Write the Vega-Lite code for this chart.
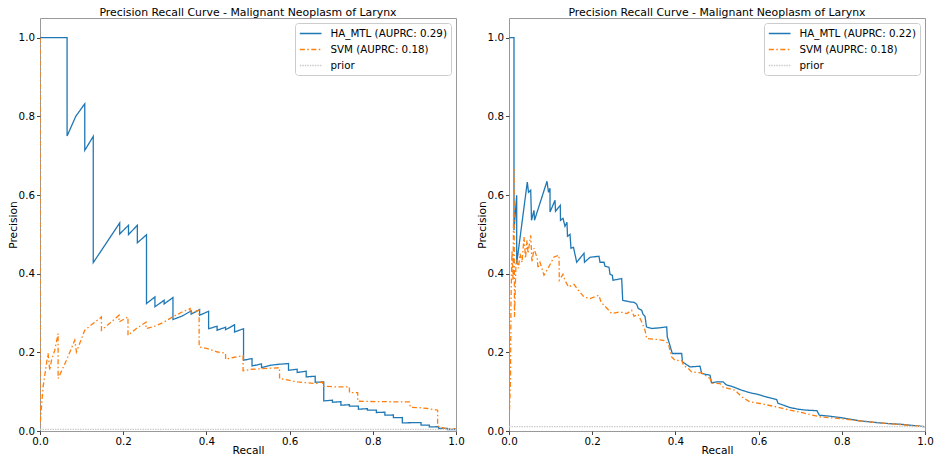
{
  "$schema": "https://vega.github.io/schema/vega-lite/v6.json",
  "padding": {"left": 6, "top": 6, "right": 5, "bottom": 5},
  "bounds": "flush",
  "spacing": 53,
  "config": {
    "font": "DejaVu Sans",
    "view": {"stroke": "#999", "strokeWidth": 1},
    "axis": {"grid": false, "domain": false, "tickColor": "#444", "tickSize": 3.5, "labelFontSize": 10.3, "labelColor": "#000", "labelFlush": false, "titleFontSize": 10.7, "titleFontWeight": "normal", "titleColor": "#000", "labelPadding": 2, "titlePadding": 0},
    "axisX": {"titlePadding": -1},
    "title": {"fontSize": 10.9, "fontWeight": "normal", "color": "#000", "offset": 0.3},
    "legend": {"orient": "top-right", "offset": 5, "strokeColor": "#ccc", "fillColor": "#fff", "padding": 3.5, "cornerRadius": 3, "labelFontSize": 10.3, "labelColor": "#000", "symbolType": "M-0.95,0H2.67", "symbolSize": 144, "symbolStrokeWidth": 1.4, "symbolFillColor": "transparent", "rowPadding": 3, "labelOffset": 18}
  },
  "datasets": {
    "left": [
      {"s": "HA_MTL (AUPRC: 0.29)", "i": 0, "r": 0, "p": 1.0},
      {"s": "HA_MTL (AUPRC: 0.29)", "i": 1, "r": 0.0651, "p": 1.0},
      {"s": "HA_MTL (AUPRC: 0.29)", "i": 2, "r": 0.0651, "p": 0.75},
      {"s": "HA_MTL (AUPRC: 0.29)", "i": 3, "r": 0.086, "p": 0.8},
      {"s": "HA_MTL (AUPRC: 0.29)", "i": 4, "r": 0.1076, "p": 0.832},
      {"s": "HA_MTL (AUPRC: 0.29)", "i": 5, "r": 0.1076, "p": 0.7136},
      {"s": "HA_MTL (AUPRC: 0.29)", "i": 6, "r": 0.128, "p": 0.749},
      {"s": "HA_MTL (AUPRC: 0.29)", "i": 7, "r": 0.128, "p": 0.428},
      {"s": "HA_MTL (AUPRC: 0.29)", "i": 8, "r": 0.1916, "p": 0.529},
      {"s": "HA_MTL (AUPRC: 0.29)", "i": 9, "r": 0.1916, "p": 0.501},
      {"s": "HA_MTL (AUPRC: 0.29)", "i": 10, "r": 0.2127, "p": 0.523},
      {"s": "HA_MTL (AUPRC: 0.29)", "i": 11, "r": 0.2127, "p": 0.4994},
      {"s": "HA_MTL (AUPRC: 0.29)", "i": 12, "r": 0.234, "p": 0.523},
      {"s": "HA_MTL (AUPRC: 0.29)", "i": 13, "r": 0.234, "p": 0.4785},
      {"s": "HA_MTL (AUPRC: 0.29)", "i": 14, "r": 0.256, "p": 0.4989},
      {"s": "HA_MTL (AUPRC: 0.29)", "i": 15, "r": 0.256, "p": 0.324},
      {"s": "HA_MTL (AUPRC: 0.29)", "i": 16, "r": 0.2763, "p": 0.3408},
      {"s": "HA_MTL (AUPRC: 0.29)", "i": 17, "r": 0.2763, "p": 0.3159},
      {"s": "HA_MTL (AUPRC: 0.29)", "i": 18, "r": 0.2984, "p": 0.3324},
      {"s": "HA_MTL (AUPRC: 0.29)", "i": 19, "r": 0.2984, "p": 0.323},
      {"s": "HA_MTL (AUPRC: 0.29)", "i": 20, "r": 0.3196, "p": 0.3393},
      {"s": "HA_MTL (AUPRC: 0.29)", "i": 21, "r": 0.3196, "p": 0.2834},
      {"s": "HA_MTL (AUPRC: 0.29)", "i": 22, "r": 0.3405, "p": 0.2917},
      {"s": "HA_MTL (AUPRC: 0.29)", "i": 23, "r": 0.3633, "p": 0.3052},
      {"s": "HA_MTL (AUPRC: 0.29)", "i": 24, "r": 0.3633, "p": 0.2968},
      {"s": "HA_MTL (AUPRC: 0.29)", "i": 25, "r": 0.3837, "p": 0.3088},
      {"s": "HA_MTL (AUPRC: 0.29)", "i": 26, "r": 0.3837, "p": 0.2943},
      {"s": "HA_MTL (AUPRC: 0.29)", "i": 27, "r": 0.4053, "p": 0.3044},
      {"s": "HA_MTL (AUPRC: 0.29)", "i": 28, "r": 0.4053, "p": 0.26},
      {"s": "HA_MTL (AUPRC: 0.29)", "i": 29, "r": 0.4257, "p": 0.2663},
      {"s": "HA_MTL (AUPRC: 0.29)", "i": 30, "r": 0.4257, "p": 0.2562},
      {"s": "HA_MTL (AUPRC: 0.29)", "i": 31, "r": 0.4461, "p": 0.2638},
      {"s": "HA_MTL (AUPRC: 0.29)", "i": 32, "r": 0.4461, "p": 0.2574},
      {"s": "HA_MTL (AUPRC: 0.29)", "i": 33, "r": 0.4677, "p": 0.2701},
      {"s": "HA_MTL (AUPRC: 0.29)", "i": 34, "r": 0.4677, "p": 0.2518},
      {"s": "HA_MTL (AUPRC: 0.29)", "i": 35, "r": 0.4893, "p": 0.26},
      {"s": "HA_MTL (AUPRC: 0.29)", "i": 36, "r": 0.4893, "p": 0.1799},
      {"s": "HA_MTL (AUPRC: 0.29)", "i": 37, "r": 0.5097, "p": 0.1842},
      {"s": "HA_MTL (AUPRC: 0.29)", "i": 38, "r": 0.5097, "p": 0.1654},
      {"s": "HA_MTL (AUPRC: 0.29)", "i": 39, "r": 0.5325, "p": 0.1705},
      {"s": "HA_MTL (AUPRC: 0.29)", "i": 40, "r": 0.5325, "p": 0.1609},
      {"s": "HA_MTL (AUPRC: 0.29)", "i": 41, "r": 0.5541, "p": 0.1672},
      {"s": "HA_MTL (AUPRC: 0.29)", "i": 42, "r": 0.5758, "p": 0.1698},
      {"s": "HA_MTL (AUPRC: 0.29)", "i": 43, "r": 0.5974, "p": 0.1715},
      {"s": "HA_MTL (AUPRC: 0.29)", "i": 44, "r": 0.5974, "p": 0.1545},
      {"s": "HA_MTL (AUPRC: 0.29)", "i": 45, "r": 0.6182, "p": 0.157},
      {"s": "HA_MTL (AUPRC: 0.29)", "i": 46, "r": 0.6182, "p": 0.1487},
      {"s": "HA_MTL (AUPRC: 0.29)", "i": 47, "r": 0.6399, "p": 0.152},
      {"s": "HA_MTL (AUPRC: 0.29)", "i": 48, "r": 0.6399, "p": 0.1375},
      {"s": "HA_MTL (AUPRC: 0.29)", "i": 49, "r": 0.6615, "p": 0.1393},
      {"s": "HA_MTL (AUPRC: 0.29)", "i": 50, "r": 0.6615, "p": 0.124},
      {"s": "HA_MTL (AUPRC: 0.29)", "i": 51, "r": 0.6821, "p": 0.1248},
      {"s": "HA_MTL (AUPRC: 0.29)", "i": 52, "r": 0.6821, "p": 0.0765},
      {"s": "HA_MTL (AUPRC: 0.29)", "i": 53, "r": 0.703, "p": 0.0783},
      {"s": "HA_MTL (AUPRC: 0.29)", "i": 54, "r": 0.703, "p": 0.0732},
      {"s": "HA_MTL (AUPRC: 0.29)", "i": 55, "r": 0.7234, "p": 0.0745},
      {"s": "HA_MTL (AUPRC: 0.29)", "i": 56, "r": 0.7234, "p": 0.0656},
      {"s": "HA_MTL (AUPRC: 0.29)", "i": 57, "r": 0.7438, "p": 0.0668},
      {"s": "HA_MTL (AUPRC: 0.29)", "i": 58, "r": 0.7438, "p": 0.063},
      {"s": "HA_MTL (AUPRC: 0.29)", "i": 59, "r": 0.7654, "p": 0.063},
      {"s": "HA_MTL (AUPRC: 0.29)", "i": 60, "r": 0.7654, "p": 0.0554},
      {"s": "HA_MTL (AUPRC: 0.29)", "i": 61, "r": 0.787, "p": 0.0567},
      {"s": "HA_MTL (AUPRC: 0.29)", "i": 62, "r": 0.787, "p": 0.0529},
      {"s": "HA_MTL (AUPRC: 0.29)", "i": 63, "r": 0.8086, "p": 0.0529},
      {"s": "HA_MTL (AUPRC: 0.29)", "i": 64, "r": 0.8086, "p": 0.047},
      {"s": "HA_MTL (AUPRC: 0.29)", "i": 65, "r": 0.829, "p": 0.0478},
      {"s": "HA_MTL (AUPRC: 0.29)", "i": 66, "r": 0.829, "p": 0.0402},
      {"s": "HA_MTL (AUPRC: 0.29)", "i": 67, "r": 0.8495, "p": 0.0407},
      {"s": "HA_MTL (AUPRC: 0.29)", "i": 68, "r": 0.8495, "p": 0.0338},
      {"s": "HA_MTL (AUPRC: 0.29)", "i": 69, "r": 0.871, "p": 0.0343},
      {"s": "HA_MTL (AUPRC: 0.29)", "i": 70, "r": 0.871, "p": 0.0206},
      {"s": "HA_MTL (AUPRC: 0.29)", "i": 71, "r": 0.8927, "p": 0.0211},
      {"s": "HA_MTL (AUPRC: 0.29)", "i": 72, "r": 0.916, "p": 0.0211},
      {"s": "HA_MTL (AUPRC: 0.29)", "i": 73, "r": 0.916, "p": 0.0147},
      {"s": "HA_MTL (AUPRC: 0.29)", "i": 74, "r": 0.9359, "p": 0.0147},
      {"s": "HA_MTL (AUPRC: 0.29)", "i": 75, "r": 0.9359, "p": 0.0104},
      {"s": "HA_MTL (AUPRC: 0.29)", "i": 76, "r": 0.9582, "p": 0.0109},
      {"s": "HA_MTL (AUPRC: 0.29)", "i": 77, "r": 0.9582, "p": 0.0064},
      {"s": "HA_MTL (AUPRC: 0.29)", "i": 78, "r": 0.9791, "p": 0.0066},
      {"s": "HA_MTL (AUPRC: 0.29)", "i": 79, "r": 0.9791, "p": 0.0038},
      {"s": "HA_MTL (AUPRC: 0.29)", "i": 80, "r": 1.0, "p": 0.0038},
      {"s": "SVM (AUPRC: 0.18)", "i": 100, "r": 0, "p": 1.0},
      {"s": "SVM (AUPRC: 0.18)", "i": 101, "r": 0, "p": 0.0147},
      {"s": "SVM (AUPRC: 0.18)", "i": 102, "r": 0.0074, "p": 0.112},
      {"s": "SVM (AUPRC: 0.18)", "i": 103, "r": 0.0156, "p": 0.1715},
      {"s": "SVM (AUPRC: 0.18)", "i": 104, "r": 0.0194, "p": 0.1977},
      {"s": "SVM (AUPRC: 0.18)", "i": 105, "r": 0.0235, "p": 0.1545},
      {"s": "SVM (AUPRC: 0.18)", "i": 106, "r": 0.0276, "p": 0.18},
      {"s": "SVM (AUPRC: 0.18)", "i": 107, "r": 0.0355, "p": 0.2053},
      {"s": "SVM (AUPRC: 0.18)", "i": 108, "r": 0.0435, "p": 0.2478},
      {"s": "SVM (AUPRC: 0.18)", "i": 109, "r": 0.0435, "p": 0.1334},
      {"s": "SVM (AUPRC: 0.18)", "i": 110, "r": 0.0636, "p": 0.18},
      {"s": "SVM (AUPRC: 0.18)", "i": 111, "r": 0.0836, "p": 0.2307},
      {"s": "SVM (AUPRC: 0.18)", "i": 112, "r": 0.0876, "p": 0.201},
      {"s": "SVM (AUPRC: 0.18)", "i": 113, "r": 0.1076, "p": 0.2562},
      {"s": "SVM (AUPRC: 0.18)", "i": 114, "r": 0.1275, "p": 0.2732},
      {"s": "SVM (AUPRC: 0.18)", "i": 115, "r": 0.1477, "p": 0.29},
      {"s": "SVM (AUPRC: 0.18)", "i": 116, "r": 0.1477, "p": 0.2562},
      {"s": "SVM (AUPRC: 0.18)", "i": 117, "r": 0.1676, "p": 0.274},
      {"s": "SVM (AUPRC: 0.18)", "i": 118, "r": 0.19, "p": 0.2943},
      {"s": "SVM (AUPRC: 0.18)", "i": 119, "r": 0.19, "p": 0.2773},
      {"s": "SVM (AUPRC: 0.18)", "i": 120, "r": 0.2115, "p": 0.29},
      {"s": "SVM (AUPRC: 0.18)", "i": 121, "r": 0.2115, "p": 0.2435},
      {"s": "SVM (AUPRC: 0.18)", "i": 122, "r": 0.2324, "p": 0.2612},
      {"s": "SVM (AUPRC: 0.18)", "i": 123, "r": 0.2547, "p": 0.2765},
      {"s": "SVM (AUPRC: 0.18)", "i": 124, "r": 0.2547, "p": 0.2605},
      {"s": "SVM (AUPRC: 0.18)", "i": 125, "r": 0.2756, "p": 0.2663},
      {"s": "SVM (AUPRC: 0.18)", "i": 126, "r": 0.2972, "p": 0.2765},
      {"s": "SVM (AUPRC: 0.18)", "i": 127, "r": 0.3188, "p": 0.29},
      {"s": "SVM (AUPRC: 0.18)", "i": 128, "r": 0.3405, "p": 0.3019},
      {"s": "SVM (AUPRC: 0.18)", "i": 129, "r": 0.3609, "p": 0.3113},
      {"s": "SVM (AUPRC: 0.18)", "i": 130, "r": 0.3609, "p": 0.2994},
      {"s": "SVM (AUPRC: 0.18)", "i": 131, "r": 0.3825, "p": 0.307},
      {"s": "SVM (AUPRC: 0.18)", "i": 132, "r": 0.3825, "p": 0.2137},
      {"s": "SVM (AUPRC: 0.18)", "i": 133, "r": 0.4029, "p": 0.2092},
      {"s": "SVM (AUPRC: 0.18)", "i": 134, "r": 0.4245, "p": 0.2015},
      {"s": "SVM (AUPRC: 0.18)", "i": 135, "r": 0.4461, "p": 0.1977},
      {"s": "SVM (AUPRC: 0.18)", "i": 136, "r": 0.4461, "p": 0.1825},
      {"s": "SVM (AUPRC: 0.18)", "i": 137, "r": 0.4677, "p": 0.1875},
      {"s": "SVM (AUPRC: 0.18)", "i": 138, "r": 0.4881, "p": 0.1914},
      {"s": "SVM (AUPRC: 0.18)", "i": 139, "r": 0.4881, "p": 0.1532},
      {"s": "SVM (AUPRC: 0.18)", "i": 140, "r": 0.5085, "p": 0.157},
      {"s": "SVM (AUPRC: 0.18)", "i": 141, "r": 0.5325, "p": 0.1583},
      {"s": "SVM (AUPRC: 0.18)", "i": 142, "r": 0.5541, "p": 0.1596},
      {"s": "SVM (AUPRC: 0.18)", "i": 143, "r": 0.5758, "p": 0.1609},
      {"s": "SVM (AUPRC: 0.18)", "i": 144, "r": 0.5758, "p": 0.1334},
      {"s": "SVM (AUPRC: 0.18)", "i": 145, "r": 0.5974, "p": 0.1291},
      {"s": "SVM (AUPRC: 0.18)", "i": 146, "r": 0.6197, "p": 0.1248},
      {"s": "SVM (AUPRC: 0.18)", "i": 147, "r": 0.6406, "p": 0.1227},
      {"s": "SVM (AUPRC: 0.18)", "i": 148, "r": 0.6639, "p": 0.1207},
      {"s": "SVM (AUPRC: 0.18)", "i": 149, "r": 0.6797, "p": 0.1248},
      {"s": "SVM (AUPRC: 0.18)", "i": 150, "r": 0.6797, "p": 0.1138},
      {"s": "SVM (AUPRC: 0.18)", "i": 151, "r": 0.7006, "p": 0.1126},
      {"s": "SVM (AUPRC: 0.18)", "i": 152, "r": 0.7222, "p": 0.1121},
      {"s": "SVM (AUPRC: 0.18)", "i": 153, "r": 0.7438, "p": 0.1121},
      {"s": "SVM (AUPRC: 0.18)", "i": 154, "r": 0.7438, "p": 0.0978},
      {"s": "SVM (AUPRC: 0.18)", "i": 155, "r": 0.7637, "p": 0.0973},
      {"s": "SVM (AUPRC: 0.18)", "i": 156, "r": 0.7637, "p": 0.0757},
      {"s": "SVM (AUPRC: 0.18)", "i": 157, "r": 0.787, "p": 0.0752},
      {"s": "SVM (AUPRC: 0.18)", "i": 158, "r": 0.811, "p": 0.0745},
      {"s": "SVM (AUPRC: 0.18)", "i": 159, "r": 0.835, "p": 0.0745},
      {"s": "SVM (AUPRC: 0.18)", "i": 160, "r": 0.8567, "p": 0.074},
      {"s": "SVM (AUPRC: 0.18)", "i": 161, "r": 0.8879, "p": 0.074},
      {"s": "SVM (AUPRC: 0.18)", "i": 162, "r": 0.8903, "p": 0.0605},
      {"s": "SVM (AUPRC: 0.18)", "i": 163, "r": 0.9119, "p": 0.0592},
      {"s": "SVM (AUPRC: 0.18)", "i": 164, "r": 0.9318, "p": 0.0572},
      {"s": "SVM (AUPRC: 0.18)", "i": 165, "r": 0.9558, "p": 0.0529},
      {"s": "SVM (AUPRC: 0.18)", "i": 166, "r": 0.9558, "p": 0.0122},
      {"s": "SVM (AUPRC: 0.18)", "i": 167, "r": 0.9767, "p": 0.0058},
      {"s": "SVM (AUPRC: 0.18)", "i": 168, "r": 1.0, "p": 0.0058},
      {"s": "prior", "i": 200, "r": 0, "p": 0.004},
      {"s": "prior", "i": 201, "r": 1, "p": 0.004}
    ],
    "right": [
      {"s": "HA_MTL (AUPRC: 0.22)", "i": 0, "r": 0, "p": 1.0},
      {"s": "HA_MTL (AUPRC: 0.22)", "i": 1, "r": 0.012, "p": 1.0},
      {"s": "HA_MTL (AUPRC: 0.22)", "i": 2, "r": 0.012, "p": 0.5103},
      {"s": "HA_MTL (AUPRC: 0.22)", "i": 3, "r": 0.0185, "p": 0.5992},
      {"s": "HA_MTL (AUPRC: 0.22)", "i": 4, "r": 0.0185, "p": 0.4257},
      {"s": "HA_MTL (AUPRC: 0.22)", "i": 5, "r": 0.032, "p": 0.5357},
      {"s": "HA_MTL (AUPRC: 0.22)", "i": 6, "r": 0.044, "p": 0.633},
      {"s": "HA_MTL (AUPRC: 0.22)", "i": 7, "r": 0.0469, "p": 0.6069},
      {"s": "HA_MTL (AUPRC: 0.22)", "i": 8, "r": 0.0522, "p": 0.612},
      {"s": "HA_MTL (AUPRC: 0.22)", "i": 9, "r": 0.0541, "p": 0.5357},
      {"s": "HA_MTL (AUPRC: 0.22)", "i": 10, "r": 0.0601, "p": 0.5611},
      {"s": "HA_MTL (AUPRC: 0.22)", "i": 11, "r": 0.0613, "p": 0.5357},
      {"s": "HA_MTL (AUPRC: 0.22)", "i": 12, "r": 0.0913, "p": 0.6348},
      {"s": "HA_MTL (AUPRC: 0.22)", "i": 13, "r": 0.095, "p": 0.6069},
      {"s": "HA_MTL (AUPRC: 0.22)", "i": 14, "r": 0.0986, "p": 0.617},
      {"s": "HA_MTL (AUPRC: 0.22)", "i": 15, "r": 0.0986, "p": 0.5568},
      {"s": "HA_MTL (AUPRC: 0.22)", "i": 16, "r": 0.1106, "p": 0.5865},
      {"s": "HA_MTL (AUPRC: 0.22)", "i": 17, "r": 0.1118, "p": 0.5586},
      {"s": "HA_MTL (AUPRC: 0.22)", "i": 18, "r": 0.1233, "p": 0.5738},
      {"s": "HA_MTL (AUPRC: 0.22)", "i": 19, "r": 0.1238, "p": 0.5357},
      {"s": "HA_MTL (AUPRC: 0.22)", "i": 20, "r": 0.1298, "p": 0.5408},
      {"s": "HA_MTL (AUPRC: 0.22)", "i": 21, "r": 0.1346, "p": 0.5205},
      {"s": "HA_MTL (AUPRC: 0.22)", "i": 22, "r": 0.1394, "p": 0.5306},
      {"s": "HA_MTL (AUPRC: 0.22)", "i": 23, "r": 0.1406, "p": 0.495},
      {"s": "HA_MTL (AUPRC: 0.22)", "i": 24, "r": 0.1466, "p": 0.5001},
      {"s": "HA_MTL (AUPRC: 0.22)", "i": 25, "r": 0.149, "p": 0.4646},
      {"s": "HA_MTL (AUPRC: 0.22)", "i": 26, "r": 0.155, "p": 0.4671},
      {"s": "HA_MTL (AUPRC: 0.22)", "i": 27, "r": 0.1627, "p": 0.429},
      {"s": "HA_MTL (AUPRC: 0.22)", "i": 28, "r": 0.1803, "p": 0.4518},
      {"s": "HA_MTL (AUPRC: 0.22)", "i": 29, "r": 0.1815, "p": 0.429},
      {"s": "HA_MTL (AUPRC: 0.22)", "i": 30, "r": 0.1947, "p": 0.4417},
      {"s": "HA_MTL (AUPRC: 0.22)", "i": 31, "r": 0.2163, "p": 0.4442},
      {"s": "HA_MTL (AUPRC: 0.22)", "i": 32, "r": 0.2188, "p": 0.429},
      {"s": "HA_MTL (AUPRC: 0.22)", "i": 33, "r": 0.2284, "p": 0.429},
      {"s": "HA_MTL (AUPRC: 0.22)", "i": 34, "r": 0.2308, "p": 0.4188},
      {"s": "HA_MTL (AUPRC: 0.22)", "i": 35, "r": 0.2404, "p": 0.4163},
      {"s": "HA_MTL (AUPRC: 0.22)", "i": 36, "r": 0.2428, "p": 0.3985},
      {"s": "HA_MTL (AUPRC: 0.22)", "i": 37, "r": 0.2483, "p": 0.3959},
      {"s": "HA_MTL (AUPRC: 0.22)", "i": 38, "r": 0.25, "p": 0.3832},
      {"s": "HA_MTL (AUPRC: 0.22)", "i": 39, "r": 0.2709, "p": 0.3875},
      {"s": "HA_MTL (AUPRC: 0.22)", "i": 40, "r": 0.2733, "p": 0.3324},
      {"s": "HA_MTL (AUPRC: 0.22)", "i": 41, "r": 0.2909, "p": 0.3281},
      {"s": "HA_MTL (AUPRC: 0.22)", "i": 42, "r": 0.3005, "p": 0.3273},
      {"s": "HA_MTL (AUPRC: 0.22)", "i": 43, "r": 0.307, "p": 0.3222},
      {"s": "HA_MTL (AUPRC: 0.22)", "i": 44, "r": 0.3108, "p": 0.3113},
      {"s": "HA_MTL (AUPRC: 0.22)", "i": 45, "r": 0.319, "p": 0.307},
      {"s": "HA_MTL (AUPRC: 0.22)", "i": 46, "r": 0.3221, "p": 0.2968},
      {"s": "HA_MTL (AUPRC: 0.22)", "i": 47, "r": 0.3269, "p": 0.2917},
      {"s": "HA_MTL (AUPRC: 0.22)", "i": 48, "r": 0.3305, "p": 0.2646},
      {"s": "HA_MTL (AUPRC: 0.22)", "i": 49, "r": 0.343, "p": 0.2605},
      {"s": "HA_MTL (AUPRC: 0.22)", "i": 50, "r": 0.363, "p": 0.2625},
      {"s": "HA_MTL (AUPRC: 0.22)", "i": 51, "r": 0.3791, "p": 0.2646},
      {"s": "HA_MTL (AUPRC: 0.22)", "i": 52, "r": 0.3805, "p": 0.2391},
      {"s": "HA_MTL (AUPRC: 0.22)", "i": 53, "r": 0.3846, "p": 0.2257},
      {"s": "HA_MTL (AUPRC: 0.22)", "i": 54, "r": 0.3925, "p": 0.197},
      {"s": "HA_MTL (AUPRC: 0.22)", "i": 55, "r": 0.4151, "p": 0.197},
      {"s": "HA_MTL (AUPRC: 0.22)", "i": 56, "r": 0.4171, "p": 0.1756},
      {"s": "HA_MTL (AUPRC: 0.22)", "i": 57, "r": 0.4351, "p": 0.1629},
      {"s": "HA_MTL (AUPRC: 0.22)", "i": 58, "r": 0.4591, "p": 0.1647},
      {"s": "HA_MTL (AUPRC: 0.22)", "i": 59, "r": 0.4632, "p": 0.1461},
      {"s": "HA_MTL (AUPRC: 0.22)", "i": 60, "r": 0.4832, "p": 0.1418},
      {"s": "HA_MTL (AUPRC: 0.22)", "i": 61, "r": 0.4868, "p": 0.1227},
      {"s": "HA_MTL (AUPRC: 0.22)", "i": 62, "r": 0.4993, "p": 0.1248},
      {"s": "HA_MTL (AUPRC: 0.22)", "i": 63, "r": 0.5151, "p": 0.1248},
      {"s": "HA_MTL (AUPRC: 0.22)", "i": 64, "r": 0.5216, "p": 0.1177},
      {"s": "HA_MTL (AUPRC: 0.22)", "i": 65, "r": 0.5392, "p": 0.1121},
      {"s": "HA_MTL (AUPRC: 0.22)", "i": 66, "r": 0.5594, "p": 0.1037},
      {"s": "HA_MTL (AUPRC: 0.22)", "i": 67, "r": 0.5793, "p": 0.0973},
      {"s": "HA_MTL (AUPRC: 0.22)", "i": 68, "r": 0.5993, "p": 0.0928},
      {"s": "HA_MTL (AUPRC: 0.22)", "i": 69, "r": 0.6202, "p": 0.0859},
      {"s": "HA_MTL (AUPRC: 0.22)", "i": 70, "r": 0.6435, "p": 0.08},
      {"s": "HA_MTL (AUPRC: 0.22)", "i": 71, "r": 0.6466, "p": 0.0706},
      {"s": "HA_MTL (AUPRC: 0.22)", "i": 72, "r": 0.6755, "p": 0.0597},
      {"s": "HA_MTL (AUPRC: 0.22)", "i": 73, "r": 0.6947, "p": 0.0554},
      {"s": "HA_MTL (AUPRC: 0.22)", "i": 74, "r": 0.7156, "p": 0.0529},
      {"s": "HA_MTL (AUPRC: 0.22)", "i": 75, "r": 0.7404, "p": 0.0516},
      {"s": "HA_MTL (AUPRC: 0.22)", "i": 76, "r": 0.7459, "p": 0.0402},
      {"s": "HA_MTL (AUPRC: 0.22)", "i": 77, "r": 0.7716, "p": 0.0376},
      {"s": "HA_MTL (AUPRC: 0.22)", "i": 78, "r": 0.7957, "p": 0.0343},
      {"s": "HA_MTL (AUPRC: 0.22)", "i": 79, "r": 0.8197, "p": 0.03},
      {"s": "HA_MTL (AUPRC: 0.22)", "i": 80, "r": 0.8438, "p": 0.0257},
      {"s": "HA_MTL (AUPRC: 0.22)", "i": 81, "r": 0.8678, "p": 0.0231},
      {"s": "HA_MTL (AUPRC: 0.22)", "i": 82, "r": 0.8918, "p": 0.0206},
      {"s": "HA_MTL (AUPRC: 0.22)", "i": 83, "r": 0.9159, "p": 0.0186},
      {"s": "HA_MTL (AUPRC: 0.22)", "i": 84, "r": 0.9399, "p": 0.0173},
      {"s": "HA_MTL (AUPRC: 0.22)", "i": 85, "r": 0.9639, "p": 0.0147},
      {"s": "HA_MTL (AUPRC: 0.22)", "i": 86, "r": 0.988, "p": 0.0122},
      {"s": "HA_MTL (AUPRC: 0.22)", "i": 87, "r": 1.0, "p": 0.0109},
      {"s": "SVM (AUPRC: 0.18)", "i": 100, "r": 0, "p": 1.0},
      {"s": "SVM (AUPRC: 0.18)", "i": 101, "r": 0, "p": 0.015},
      {"s": "SVM (AUPRC: 0.18)", "i": 102, "r": 0.0036, "p": 0.129},
      {"s": "SVM (AUPRC: 0.18)", "i": 103, "r": 0.0048, "p": 0.332},
      {"s": "SVM (AUPRC: 0.18)", "i": 104, "r": 0.0072, "p": 0.459},
      {"s": "SVM (AUPRC: 0.18)", "i": 105, "r": 0.0096, "p": 0.383},
      {"s": "SVM (AUPRC: 0.18)", "i": 106, "r": 0.012, "p": 0.667},
      {"s": "SVM (AUPRC: 0.18)", "i": 107, "r": 0.0132, "p": 0.29},
      {"s": "SVM (AUPRC: 0.18)", "i": 108, "r": 0.0168, "p": 0.429},
      {"s": "SVM (AUPRC: 0.18)", "i": 109, "r": 0.0192, "p": 0.434},
      {"s": "SVM (AUPRC: 0.18)", "i": 110, "r": 0.0228, "p": 0.4137},
      {"s": "SVM (AUPRC: 0.18)", "i": 111, "r": 0.0264, "p": 0.451},
      {"s": "SVM (AUPRC: 0.18)", "i": 112, "r": 0.0313, "p": 0.429},
      {"s": "SVM (AUPRC: 0.18)", "i": 113, "r": 0.0361, "p": 0.4933},
      {"s": "SVM (AUPRC: 0.18)", "i": 114, "r": 0.0397, "p": 0.439},
      {"s": "SVM (AUPRC: 0.18)", "i": 115, "r": 0.0433, "p": 0.4849},
      {"s": "SVM (AUPRC: 0.18)", "i": 116, "r": 0.0457, "p": 0.4518},
      {"s": "SVM (AUPRC: 0.18)", "i": 117, "r": 0.0522, "p": 0.4976},
      {"s": "SVM (AUPRC: 0.18)", "i": 118, "r": 0.0553, "p": 0.429},
      {"s": "SVM (AUPRC: 0.18)", "i": 119, "r": 0.0601, "p": 0.4646},
      {"s": "SVM (AUPRC: 0.18)", "i": 120, "r": 0.068, "p": 0.4384},
      {"s": "SVM (AUPRC: 0.18)", "i": 121, "r": 0.0697, "p": 0.4137},
      {"s": "SVM (AUPRC: 0.18)", "i": 122, "r": 0.0745, "p": 0.429},
      {"s": "SVM (AUPRC: 0.18)", "i": 123, "r": 0.0841, "p": 0.396},
      {"s": "SVM (AUPRC: 0.18)", "i": 124, "r": 0.0938, "p": 0.4137},
      {"s": "SVM (AUPRC: 0.18)", "i": 125, "r": 0.1082, "p": 0.4424},
      {"s": "SVM (AUPRC: 0.18)", "i": 126, "r": 0.1202, "p": 0.4468},
      {"s": "SVM (AUPRC: 0.18)", "i": 127, "r": 0.1209, "p": 0.3832},
      {"s": "SVM (AUPRC: 0.18)", "i": 128, "r": 0.1298, "p": 0.3985},
      {"s": "SVM (AUPRC: 0.18)", "i": 129, "r": 0.1346, "p": 0.3832},
      {"s": "SVM (AUPRC: 0.18)", "i": 130, "r": 0.143, "p": 0.3662},
      {"s": "SVM (AUPRC: 0.18)", "i": 131, "r": 0.1563, "p": 0.373},
      {"s": "SVM (AUPRC: 0.18)", "i": 132, "r": 0.1666, "p": 0.3578},
      {"s": "SVM (AUPRC: 0.18)", "i": 133, "r": 0.1803, "p": 0.3408},
      {"s": "SVM (AUPRC: 0.18)", "i": 134, "r": 0.1947, "p": 0.3367},
      {"s": "SVM (AUPRC: 0.18)", "i": 135, "r": 0.2163, "p": 0.3451},
      {"s": "SVM (AUPRC: 0.18)", "i": 136, "r": 0.2212, "p": 0.3273},
      {"s": "SVM (AUPRC: 0.18)", "i": 137, "r": 0.2325, "p": 0.3154},
      {"s": "SVM (AUPRC: 0.18)", "i": 138, "r": 0.2469, "p": 0.2986},
      {"s": "SVM (AUPRC: 0.18)", "i": 139, "r": 0.2668, "p": 0.3027},
      {"s": "SVM (AUPRC: 0.18)", "i": 140, "r": 0.2837, "p": 0.2986},
      {"s": "SVM (AUPRC: 0.18)", "i": 141, "r": 0.2949, "p": 0.307},
      {"s": "SVM (AUPRC: 0.18)", "i": 142, "r": 0.3005, "p": 0.2917},
      {"s": "SVM (AUPRC: 0.18)", "i": 143, "r": 0.3101, "p": 0.2968},
      {"s": "SVM (AUPRC: 0.18)", "i": 144, "r": 0.319, "p": 0.2773},
      {"s": "SVM (AUPRC: 0.18)", "i": 145, "r": 0.3269, "p": 0.2562},
      {"s": "SVM (AUPRC: 0.18)", "i": 146, "r": 0.331, "p": 0.2351},
      {"s": "SVM (AUPRC: 0.18)", "i": 147, "r": 0.351, "p": 0.2333},
      {"s": "SVM (AUPRC: 0.18)", "i": 148, "r": 0.3709, "p": 0.2307},
      {"s": "SVM (AUPRC: 0.18)", "i": 149, "r": 0.3829, "p": 0.2224},
      {"s": "SVM (AUPRC: 0.18)", "i": 150, "r": 0.3911, "p": 0.1883},
      {"s": "SVM (AUPRC: 0.18)", "i": 151, "r": 0.399, "p": 0.1799},
      {"s": "SVM (AUPRC: 0.18)", "i": 152, "r": 0.4159, "p": 0.1787},
      {"s": "SVM (AUPRC: 0.18)", "i": 153, "r": 0.419, "p": 0.1672},
      {"s": "SVM (AUPRC: 0.18)", "i": 154, "r": 0.431, "p": 0.1588},
      {"s": "SVM (AUPRC: 0.18)", "i": 155, "r": 0.4392, "p": 0.1502},
      {"s": "SVM (AUPRC: 0.18)", "i": 156, "r": 0.4632, "p": 0.1477},
      {"s": "SVM (AUPRC: 0.18)", "i": 157, "r": 0.4712, "p": 0.1418},
      {"s": "SVM (AUPRC: 0.18)", "i": 158, "r": 0.4832, "p": 0.1334},
      {"s": "SVM (AUPRC: 0.18)", "i": 159, "r": 0.4873, "p": 0.1215},
      {"s": "SVM (AUPRC: 0.18)", "i": 160, "r": 0.5072, "p": 0.1207},
      {"s": "SVM (AUPRC: 0.18)", "i": 161, "r": 0.5151, "p": 0.1113},
      {"s": "SVM (AUPRC: 0.18)", "i": 162, "r": 0.5433, "p": 0.1037},
      {"s": "SVM (AUPRC: 0.18)", "i": 163, "r": 0.5594, "p": 0.0867},
      {"s": "SVM (AUPRC: 0.18)", "i": 164, "r": 0.5793, "p": 0.074},
      {"s": "SVM (AUPRC: 0.18)", "i": 165, "r": 0.6034, "p": 0.0699},
      {"s": "SVM (AUPRC: 0.18)", "i": 166, "r": 0.6435, "p": 0.0612},
      {"s": "SVM (AUPRC: 0.18)", "i": 167, "r": 0.6755, "p": 0.0529},
      {"s": "SVM (AUPRC: 0.18)", "i": 168, "r": 0.7075, "p": 0.046},
      {"s": "SVM (AUPRC: 0.18)", "i": 169, "r": 0.7476, "p": 0.0358},
      {"s": "SVM (AUPRC: 0.18)", "i": 170, "r": 0.7957, "p": 0.0318},
      {"s": "SVM (AUPRC: 0.18)", "i": 171, "r": 0.8438, "p": 0.0257},
      {"s": "SVM (AUPRC: 0.18)", "i": 172, "r": 0.8918, "p": 0.0206},
      {"s": "SVM (AUPRC: 0.18)", "i": 173, "r": 0.9399, "p": 0.0165},
      {"s": "SVM (AUPRC: 0.18)", "i": 174, "r": 0.988, "p": 0.0122},
      {"s": "SVM (AUPRC: 0.18)", "i": 175, "r": 1.0, "p": 0.0109},
      {"s": "prior", "i": 200, "r": 0, "p": 0.011},
      {"s": "prior", "i": 201, "r": 1, "p": 0.011}
    ]
  },
  "hconcat": [
    {
      "width": 416,
      "height": 413,
      "title": "Precision Recall Curve - Malignant Neoplasm of Larynx",
      "data": {"name": "left"},
      "mark": {"type": "line", "strokeWidth": 1.3, "clip": true},
      "encoding": {
        "x": {"field": "r", "type": "quantitative", "title": "Recall", "scale": {"domain": [0, 1], "nice": false, "zero": false}, "axis": {"values": [0, 0.2, 0.4, 0.6, 0.8, 1.0], "format": ".1f"}},
        "y": {"field": "p", "type": "quantitative", "title": "Precision", "scale": {"domain": [0, 1.05], "nice": false}, "axis": {"values": [0, 0.2, 0.4, 0.6, 0.8, 1.0], "format": ".1f"}},
        "order": {"field": "i", "type": "quantitative"},
        "color": {"field": "s", "type": "nominal", "legend": {"title": null}, "scale": {"domain": ["HA_MTL (AUPRC: 0.29)", "SVM (AUPRC: 0.18)", "prior"], "range": ["#1f77b4", "#ff7f0e", "#cccccc"]}},
        "strokeDash": {"field": "s", "type": "nominal", "legend": {"title": null}, "scale": {"domain": ["HA_MTL (AUPRC: 0.29)", "SVM (AUPRC: 0.18)", "prior"], "range": [[1, 0], [5, 2.5, 1.5, 2.5], [1.5, 1]]}}
      }
    },
    {
      "width": 416,
      "height": 413,
      "title": "Precision Recall Curve - Malignant Neoplasm of Larynx",
      "data": {"name": "right"},
      "mark": {"type": "line", "strokeWidth": 1.3, "clip": true},
      "encoding": {
        "x": {"field": "r", "type": "quantitative", "title": "Recall", "scale": {"domain": [0, 1], "nice": false, "zero": false}, "axis": {"values": [0, 0.2, 0.4, 0.6, 0.8, 1.0], "format": ".1f"}},
        "y": {"field": "p", "type": "quantitative", "title": "Precision", "scale": {"domain": [0, 1.05], "nice": false}, "axis": {"values": [0, 0.2, 0.4, 0.6, 0.8, 1.0], "format": ".1f"}},
        "order": {"field": "i", "type": "quantitative"},
        "color": {"field": "s", "type": "nominal", "legend": {"title": null}, "scale": {"domain": ["HA_MTL (AUPRC: 0.22)", "SVM (AUPRC: 0.18)", "prior"], "range": ["#1f77b4", "#ff7f0e", "#cccccc"]}},
        "strokeDash": {"field": "s", "type": "nominal", "legend": {"title": null}, "scale": {"domain": ["HA_MTL (AUPRC: 0.22)", "SVM (AUPRC: 0.18)", "prior"], "range": [[1, 0], [5, 2.5, 1.5, 2.5], [1.5, 1]]}}
      }
    }
  ],
  "resolve": {"scale": {"color": "independent", "strokeDash": "independent", "x": "independent", "y": "independent"}, "legend": {"color": "independent", "strokeDash": "independent"}}
}
